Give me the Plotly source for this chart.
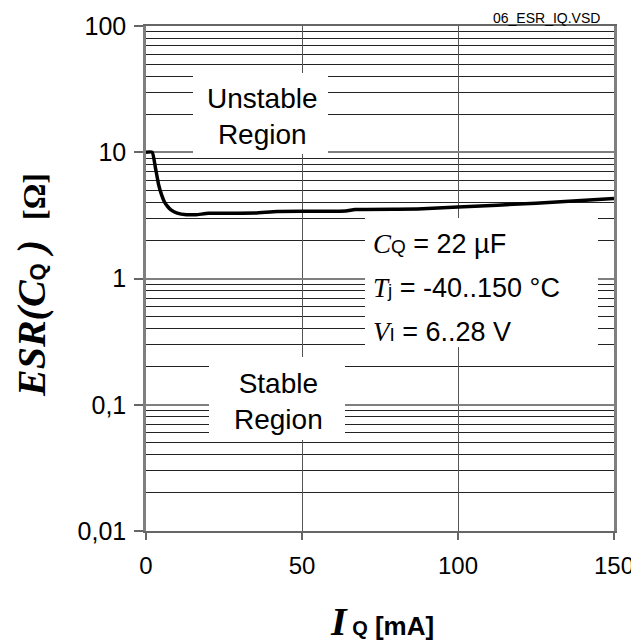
import plotly.graph_objects as go

# Data
iq_ma = [0, 2, 3, 4, 5, 6, 7, 8, 10, 13, 16, 20, 35, 42, 64, 67, 87, 100, 125, 150]
esr_ohm = [10, 10, 7.6, 5.6, 4.6, 4.0, 3.7, 3.5, 3.3, 3.2, 3.2, 3.28, 3.3, 3.4, 3.42, 3.52, 3.55, 3.68, 3.95, 4.3]

x_ticks = [0, 50, 100, 150]
y_ticks = [0.01, 0.1, 1, 10, 100]
y_tick_text = ["0,01", "0,1", "1", "10", "100"]

SANS = "Liberation Sans, Arial, sans-serif"
SERIF = "Liberation Serif, Times New Roman, serif"

# page body has an 8px margin: figure starts at (8, 8)
OFF = 8
PL, PR, PT, PB = 146, 614, 26, 531  # plot area in page pixels

fig = go.Figure()
fig.add_trace(go.Scatter(
    x=iq_ma, y=esr_ohm, mode="lines",
    line=dict(color="black", width=3.5, shape="spline", smoothing=0.4),
    showlegend=False, hoverinfo="skip",
))

W, H = 639 - OFF, 644 - OFF
fig.update_layout(
    width=W, height=H,
    margin=dict(l=PL - OFF, r=W - (PR - OFF), t=PT - OFF, b=H - (PB - OFF), autoexpand=False),
    paper_bgcolor="white", plot_bgcolor="white",
    font=dict(family=SANS, size=24, color="black"),
    xaxis=dict(
        range=[0, 150], tickvals=x_ticks, ticktext=[str(v) for v in x_ticks],
        showgrid=True, gridcolor="#555555", gridwidth=1.2,
        showline=True, linecolor="#666666", linewidth=2, mirror=True,
        ticks="outside", ticklen=7, tickcolor="#666666", tickwidth=1.5,
        ticklabelstandoff=5, zeroline=False,
        tickfont=dict(family=SANS, size=24),
    ),
    yaxis=dict(
        type="log", range=[-2, 2], tickvals=y_ticks, ticktext=y_tick_text,
        showgrid=True, gridcolor="#7f7f7f", gridwidth=2,
        minor=dict(dtick="D1", showgrid=True, gridcolor="#222222", gridwidth=1, ticks=""),
        showline=True, linecolor="#7f7f7f", linewidth=2.5, mirror=True,
        ticks="outside", ticklen=9, tickcolor="#666666", tickwidth=1.5,
        ticklabelstandoff=3, zeroline=False,
        tickfont=dict(family=SANS, size=25),
    ),
)

def px_to_paper_x(px):
    return (px - PL) / float(PR - PL)

def px_to_paper_y(py):
    return (PB - py) / float(PB - PT)

# white boxes behind the labels (cover gridlines)
boxes = [(193, 73, 328, 154), (209, 357, 345, 440), (365, 218, 598, 347)]
for x0, y0, x1, y1 in boxes:
    fig.add_shape(type="rect", xref="paper", yref="paper",
                  x0=px_to_paper_x(x0), x1=px_to_paper_x(x1),
                  y0=px_to_paper_y(y1), y1=px_to_paper_y(y0),
                  fillcolor="white", line=dict(width=0), layer="above")

def note(text, px, py, size, family=SANS, xanchor="center", angle=0, yanchor="middle"):
    return dict(text=text, x=px_to_paper_x(px), y=px_to_paper_y(py),
                xref="paper", yref="paper", showarrow=False, borderpad=0,
                xanchor=xanchor, yanchor=yanchor, textangle=angle,
                font=dict(family=family, size=size, color="black"))

ann = []
ann.append(note("Unstable<br>Region", 262, 116, 28))
ann.append(note("Stable<br>Region", 278.5, 401, 28))

sub = "<span style='font-family:Liberation Sans;font-size:19px'>%s</span>"
serif_i = "<span style='font-family:Liberation Serif'><i>%s</i></span>"
param_lines = [
    (serif_i % "C") + (sub % "Q") + " = 22 µF",
    (serif_i % "T") + (sub % "j") + " = -40..150 °C",
    (serif_i % "V") + (sub % "I") + " = 6..28 V",
]
param_y = [244, 288, 332]
for txt, py in zip(param_lines, param_y):
    ann.append(note(txt, 372, py, 27, xanchor="left"))

# axis titles
ytitle = ("<b><i>ESR(C</i></b>"
          "<b><span style='font-family:Liberation Sans;font-size:22px'>Q</span></b>"
          "<b><i> )</i></b>  <b><span style='font-size:32px'>[Ω]</span></b>")
ann.append(note(ytitle, 31, 285, 40, family=SERIF, angle=-90))

xtitle = ("<span style='font-family:Liberation Serif;font-size:40px'><b><i>I</i></b></span>"
          "<b><span style='font-size:20px'> Q</span></b> <b>[mA]</b>")
ann.append(note(xtitle, 382, 621, 26))

ann.append(note("06_ESR_IQ.VSD", 601, 9, 14, xanchor="right", yanchor="top"))

fig.update_layout(annotations=ann)
fig.write_html("out.html")
